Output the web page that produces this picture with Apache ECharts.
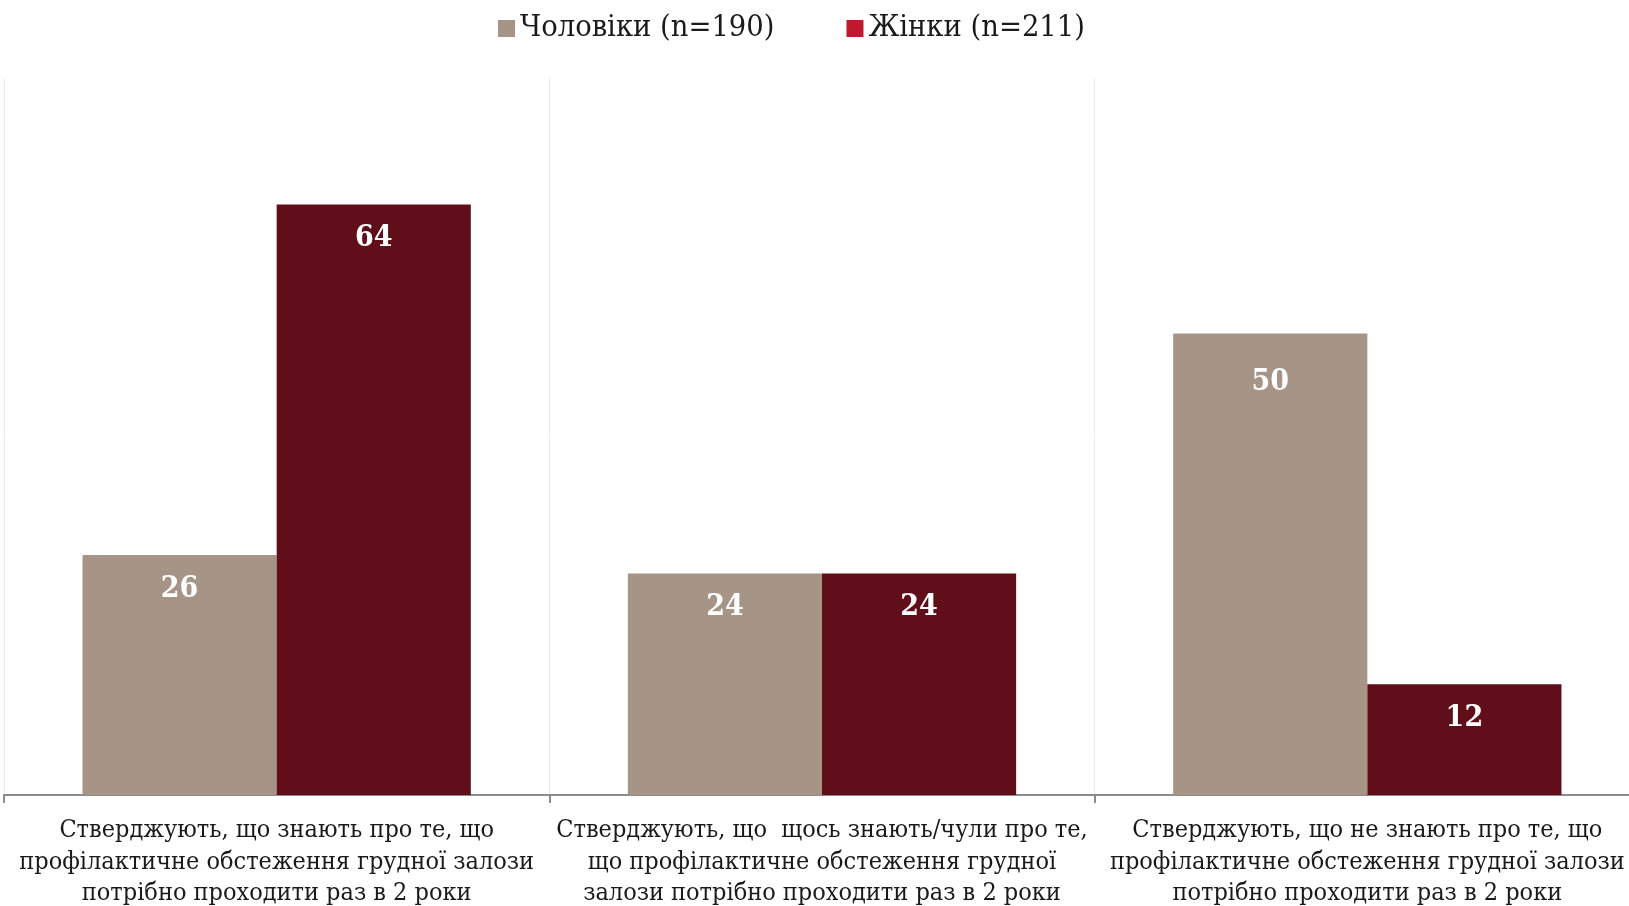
<!DOCTYPE html>
<html>
<head>
<meta charset="utf-8">
<script src="https://cdn.jsdelivr.net/npm/echarts@6/dist/echarts.min.js"></script>
<style>
  html, body { margin: 0; padding: 0; background: #fff; }
  #main { width: 1629px; height: 906px; }
</style>
</head>
<body>
<div id="main"></div>
<script>
const categories = [
  "Стверджують, що знають про те, що\nпрофілактичне обстеження грудної залози\nпотрібно проходити раз в 2 роки",
  "Стверджують, що  щось знають/чули про те,\nщо профілактичне обстеження грудної\nзалози потрібно проходити раз в 2 роки",
  "Стверджують, що не знають про те, що\nпрофілактичне обстеження грудної залози\nпотрібно проходити раз в 2 роки",
];
const seriesNames = ["Чоловіки (n=190)", "Жінки (n=211)"];
const men = [26, 24, 50];
const women = [64, 24, 12];

const font = "'DejaVu Serif Condensed', 'DejaVu Serif', serif";
const chart = echarts.init(document.getElementById("main"));

const valueLabel = {
  show: true,
  position: "insideTop",
  distance: 19,
  color: "#fff",
  fontFamily: font,
  fontWeight: "bold",
  fontSize: 30,
};

// the "50" label sits a little lower in the original
const menData = men.map((v, i) => (i === 2 ? { value: v, label: { distance: 34 } } : v));

chart.setOption({
  animation: false,
  legend: {
    left: 493,
    top: 8,
    itemWidth: 17,
    itemHeight: 17,
    itemGap: 72,
    icon: "rect",
    textStyle: { fontFamily: font, fontSize: 30.5, color: "#1a1a1a" },
    data: [
      { name: seriesNames[0], itemStyle: { color: "#a69486" } },
      { name: seriesNames[1], itemStyle: { color: "#c0182f" } },
    ],
  },
  grid: { left: 4, width: 1636, top: 78, bottom: 111, outerBoundsMode: "none" },
  xAxis: {
    type: "category",
    data: categories,
    axisLine: { lineStyle: { color: "#8c8c8c", width: 2 } },
    axisTick: { show: true, length: 8, lineStyle: { color: "#8c8c8c", width: 2 } },
    splitLine: { show: true, lineStyle: { color: "#ebebeb", width: 1 } },
    axisLabel: {
      interval: 0,
      margin: 20,
      fontFamily: font,
      fontSize: 25,
      lineHeight: 31.5,
      color: "#1a1a1a",
    },
  },
  yAxis: {
    type: "value",
    min: 0,
    max: 77.7,
    show: false,
  },
  series: [
    {
      name: seriesNames[0],
      type: "bar",
      data: menData,
      barGap: "0%",
      barCategoryGap: "28.8%",
      itemStyle: { color: "#a69486" },
      label: valueLabel,
    },
    {
      name: seriesNames[1],
      type: "bar",
      data: women,
      itemStyle: { color: "#5f0e1a" },
      label: valueLabel,
    },
  ],
});
</script>
</body>
</html>
